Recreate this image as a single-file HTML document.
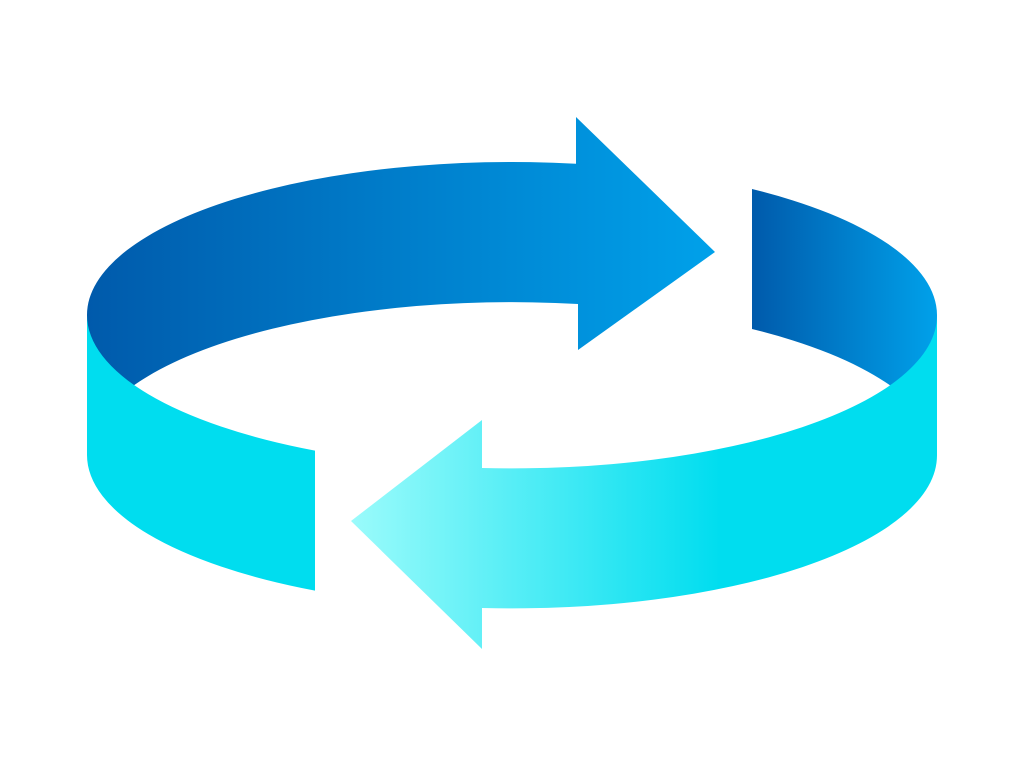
<!DOCTYPE html>
<html><head><meta charset="utf-8"><style>html,body{margin:0;padding:0;background:#fff;}svg{display:block}</style></head>
<body>
<svg width="1024" height="768" viewBox="0 0 1024 768" xmlns="http://www.w3.org/2000/svg">
<defs>
<linearGradient id="gTop" x1="87" y1="0" x2="715" y2="0" gradientUnits="userSpaceOnUse">
<stop offset="0" stop-color="#005AAB"/><stop offset="1" stop-color="#00A1EA"/></linearGradient>
<linearGradient id="gRight" x1="752" y1="0" x2="937" y2="0" gradientUnits="userSpaceOnUse">
<stop offset="0" stop-color="#005AAB"/><stop offset="1" stop-color="#00A1EA"/></linearGradient>
<linearGradient id="gBot" x1="351" y1="0" x2="720" y2="0" gradientUnits="userSpaceOnUse">
<stop offset="0" stop-color="#9AFBFB"/><stop offset="1" stop-color="#00DDEF"/></linearGradient>
</defs>
<path d="M87,315 A425,153 0 0 1 576,163.7 L576,117 L715,252 L578,350 L578,304 A425,153 0 0 0 87,455 Z" fill="url(#gTop)"/>
<path d="M752,189 A425,153 0 0 1 937,315 L937,455 A425,153 0 0 0 752,329 Z" fill="url(#gRight)"/>
<path d="M937,315 A425,153 0 0 1 482,468 L482,420 L351,521 L482,649 L482,608 A425,153 0 0 0 937,455 Z" fill="url(#gBot)"/>
<path d="M87,315 A425,153 0 0 0 315,450.6 L315,590.6 A425,153 0 0 1 87,455 Z" fill="#00DDEF"/>
</svg>
</body></html>
